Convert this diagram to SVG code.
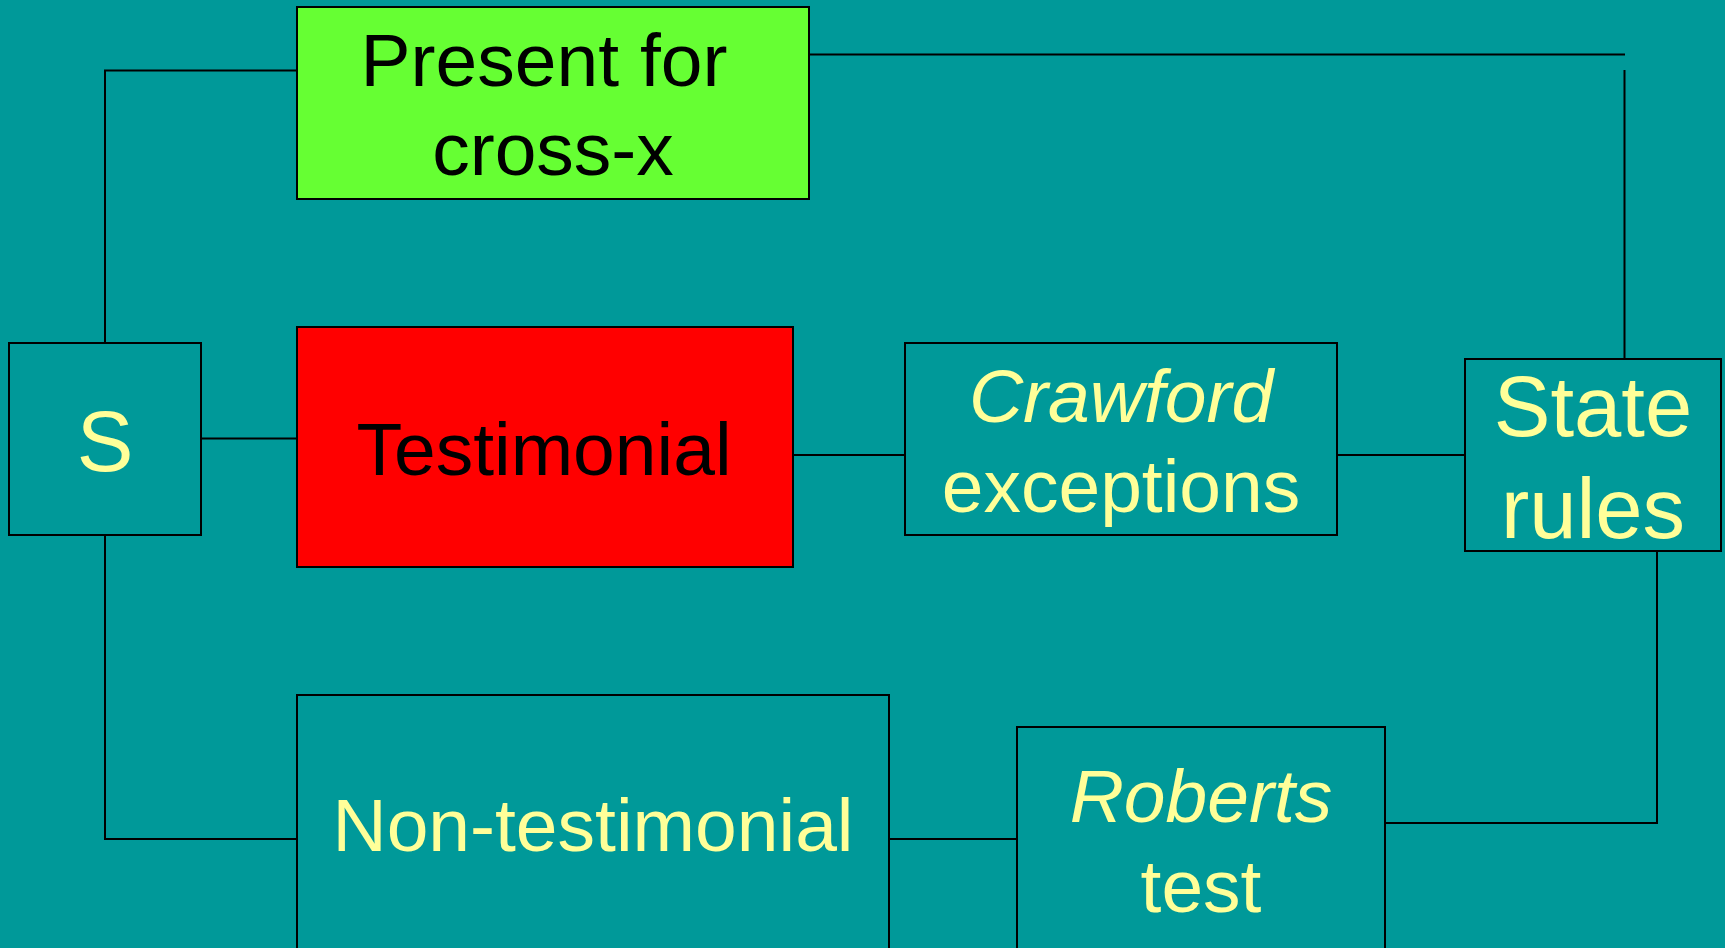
<svg xmlns="http://www.w3.org/2000/svg" width="1725" height="948" viewBox="0 0 1725 948">
  <style>
    .box { stroke: #000; stroke-width: 2; }
    .teal { fill: #009999; }
    .lbl { font-family: "Liberation Sans", Arial, sans-serif; font-size: 75px; text-anchor: middle; }
    .big { font-size: 85px; }
    .dark { fill: #000; }
    .light { fill: #FFFF99; }
    .it { font-style: italic; }
    .wire { fill: none; stroke: #000; stroke-width: 2; }
  </style>
  <rect width="1725" height="948" fill="#009999"/>

  <!-- connectors -->
  <g id="connectors">
    <polyline class="wire" points="297,70.5 105,70.5 105,343"/>
    <line class="wire" x1="201" y1="438.5" x2="297" y2="438.5"/>
    <polyline class="wire" points="105,535 105,839 297,839"/>
    <line class="wire" x1="793" y1="455" x2="905" y2="455"/>
    <line class="wire" x1="1337" y1="455" x2="1465" y2="455"/>
    <line class="wire" x1="809" y1="54.5" x2="1625" y2="54.5" stroke-width="2.4"/>
    <line class="wire" x1="1624.5" y1="70" x2="1624.5" y2="359"/>
    <polyline class="wire" points="1657,551 1657,823 1385,823"/>
    <line class="wire" x1="889" y1="839" x2="1017" y2="839"/>
  </g>

  <g id="node-present">
    <rect class="box" x="297" y="7" width="512" height="192" fill="#66FF33"/>
    <text class="lbl dark" x="544" y="86">Present for</text>
    <text class="lbl dark" x="553" y="175">cross-x</text>
  </g>

  <g id="node-s">
    <rect class="box teal" x="9" y="343" width="192" height="192"/>
    <text class="lbl big light" x="105" y="471">S</text>
  </g>

  <g id="node-testimonial">
    <rect class="box" x="297" y="327" width="496" height="240" fill="#FF0000"/>
    <text class="lbl dark" x="544" y="475">Testimonial</text>
  </g>

  <g id="node-crawford">
    <rect class="box teal" x="905" y="343" width="432" height="192"/>
    <text class="lbl light it" x="1121" y="422">Crawford</text>
    <text class="lbl light" x="1121" y="512">exceptions</text>
  </g>

  <g id="node-state">
    <rect class="box teal" x="1465" y="359" width="256" height="192"/>
    <text class="lbl big light" x="1593" y="436">State</text>
    <text class="lbl big light" x="1593" y="538">rules</text>
  </g>

  <g id="node-nontestimonial">
    <rect class="box teal" x="297" y="695" width="592" height="280"/>
    <text class="lbl light" x="593" y="851">Non-testimonial</text>
  </g>

  <g id="node-roberts">
    <rect class="box teal" x="1017" y="727" width="368" height="260"/>
    <text class="lbl light it" x="1201" y="822">Roberts</text>
    <text class="lbl light" x="1201" y="912">test</text>
  </g>
</svg>
